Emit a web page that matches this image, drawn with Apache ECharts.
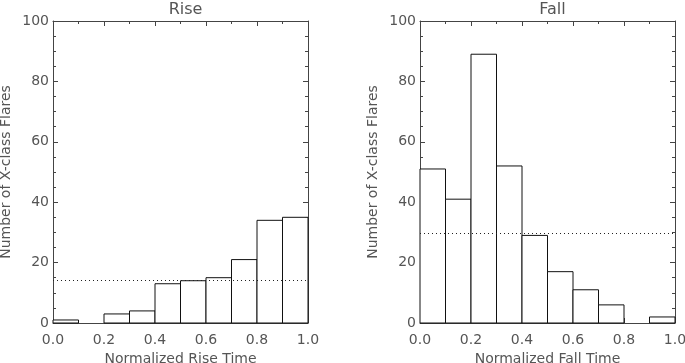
<!DOCTYPE html>
<html>
<head>
<meta charset="utf-8">
<script src="https://cdn.jsdelivr.net/npm/echarts@6/dist/echarts.min.js"></script>
<style>
  html, body { margin: 0; padding: 0; background: #fff; }
  #chart { width: 685px; height: 363px; }
</style>
</head>
<body>
<div id="chart"></div>
<script>
// 直方图分箱边界 (0.0-0.1, 0.1-0.2, ... 0.9-1.0)
const binStarts = [0.0, 0.1, 0.2, 0.3, 0.4, 0.5, 0.6, 0.7, 0.8, 0.9];
const binEnds = [0.1, 0.2, 0.3, 0.4, 0.5, 0.6, 0.7, 0.8, 0.9, 1.0];
const riseCounts = [1, 0, 3, 4, 13, 14, 15, 21, 34, 35];
const fallCounts = [51, 41, 89, 52, 29, 17, 11, 6, 0, 2];
const panelTitles = ['Rise', 'Fall'];
const xNames = ['Normalized Rise Time', 'Normalized Fall Time'];
const yName = 'Number of X-class Flares';

const FONT = 'DejaVu Sans';
const TEXT = '#555';
const AXIS = '#444';

const mean = arr => arr.reduce((a, b) => a + b, 0) / arr.length;

// 每个面板的网格位置
const grids = [
  { left: 53, top: 21, width: 255, height: 302, outerBoundsMode: 'none' },
  { left: 420, top: 21, width: 255, height: 302, outerBoundsMode: 'none' }
];

const tickStyle = { show: true, inside: true, length: 5, lineStyle: { color: AXIS } };
const lineStyle = { show: true, onZero: false, lineStyle: { color: AXIS, width: 1 } };

// 直方图矩形
function renderBin(params, api) {
  const count = api.value(2);
  if (!count) return null;
  const p0 = api.coord([api.value(0), count]);
  const p1 = api.coord([api.value(1), 0]);
  return {
    type: 'rect',
    shape: { x: p0[0], y: p0[1], width: p1[0] - p0[0], height: p1[1] - p0[1] },
    style: { fill: '#fff', stroke: '#111', lineWidth: 1 }
  };
}

const xAxes = [];
const yAxes = [];
const series = [];

[riseCounts, fallCounts].forEach((counts, i) => {
  xAxes.push({
    type: 'value', gridIndex: i, position: 'bottom', min: 0, max: 1, interval: 0.2,
    name: xNames[i], nameLocation: 'middle', nameGap: 27,
    nameTextStyle: { color: TEXT, fontFamily: FONT, fontSize: 14 },
    axisLine: lineStyle,
    axisTick: tickStyle,
    minorTick: { show: true, splitNumber: 2, length: 3, lineStyle: { color: AXIS } },
    axisLabel: { color: TEXT, fontFamily: FONT, fontSize: 14, margin: 10,
      formatter: v => v.toFixed(1) },
    splitLine: { show: false }
  });
  // 顶部刻度
  xAxes.push({
    type: 'value', gridIndex: i, position: 'top', min: 0, max: 1, interval: 0.2,
    axisLine: lineStyle,
    axisTick: tickStyle,
    minorTick: { show: true, splitNumber: 2, length: 3, lineStyle: { color: AXIS } },
    axisLabel: { show: false },
    splitLine: { show: false }
  });

  yAxes.push({
    type: 'value', gridIndex: i, position: 'left', min: 0, max: 100, interval: 20,
    name: yName, nameLocation: 'middle', nameGap: 40, nameRotate: 90,
    nameTextStyle: { color: TEXT, fontFamily: FONT, fontSize: 14 },
    axisLine: lineStyle,
    axisTick: tickStyle,
    minorTick: { show: true, splitNumber: 4, length: 3, lineStyle: { color: AXIS } },
    axisLabel: { color: TEXT, fontFamily: FONT, fontSize: 14, margin: 4 },
    splitLine: { show: false }
  });
  yAxes.push({
    type: 'value', gridIndex: i, position: 'right', min: 0, max: 100, interval: 20,
    axisLine: lineStyle,
    axisTick: tickStyle,
    minorTick: { show: true, splitNumber: 4, length: 3, lineStyle: { color: AXIS } },
    axisLabel: { show: false },
    splitLine: { show: false }
  });

  series.push({
    type: 'custom',
    xAxisIndex: i * 2,
    yAxisIndex: i * 2,
    renderItem: renderBin,
    encode: { x: [0, 1], y: 2 },
    data: counts.map((c, k) => [binStarts[k], binEnds[k], c]),
    silent: true,
    animation: false,
    markLine: {
      silent: true,
      symbol: 'none',
      label: { show: false },
      lineStyle: { color: '#222', type: [1, 3], width: 1 },
      data: [{ yAxis: mean(counts) }]
    }
  });
});

const chart = echarts.init(document.getElementById('chart'));
chart.setOption({
  backgroundColor: '#fff',
  animation: false,
  title: panelTitles.map((t, i) => ({
    text: t,
    left: grids[i].left + grids[i].width / 2,
    top: -3,
    textAlign: 'center',
    textStyle: { color: TEXT, fontFamily: FONT, fontSize: 16, fontWeight: 'normal' }
  })),
  grid: grids,
  xAxis: xAxes,
  yAxis: yAxes,
  series: series
});
</script>
</body>
</html>
